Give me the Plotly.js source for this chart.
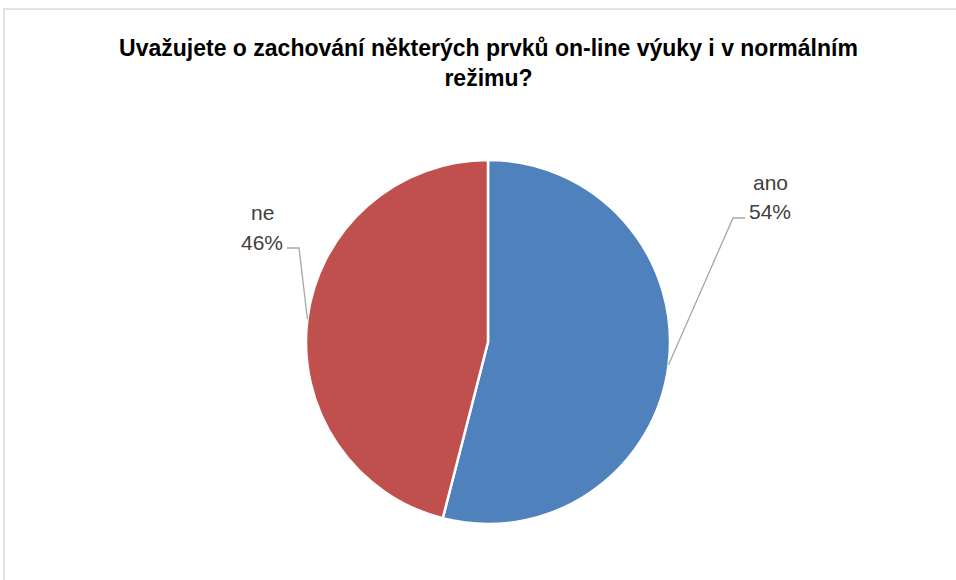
<!DOCTYPE html>
<html>
<head>
<meta charset="utf-8">
<script src="https://cdn.plot.ly/plotly-3.0.1.min.js"></script>
<style>html,body{margin:0;padding:0;background:#fff;}#chart{width:956px;height:580px;}</style>
</head>
<body>
<div id="chart"></div>
<script>
const categories = ["ano", "ne"];
const values = [54, 46];
const colors = ["#4F81BD", "#C0504D"];
const titleLines = ["Uvažujete o zachování některých prvků on-line výuky i v normálním", "režimu?"];

const W = 956, H = 580;
const cx = 488, cy = 342, R = 182;

const total = values.reduce((a, b) => a + b, 0);
const pct = values.map(v => Math.round(v / total * 100) + "%");

// mid-angles (clockwise from 12 o'clock) to anchor leader lines on the pie edge
let acc = 0;
const mids = values.map(v => { const m = (acc + v / 2) / total * 2 * Math.PI; acc += v; return m; });
const edge = mids.map(a => [cx + R * Math.sin(a), cy - R * Math.cos(a)]);

const px = x => x / W;
const py = y => 1 - y / H;

// label placement (pixels)
const labelPos = [
  {x: 770, yName: 182, yPct: 211, elbow: [733, 218], end: [745, 218]},
  {x: 262, yName: 212, yPct: 242, elbow: [299, 248], end: [287, 248]}
];

const labelFont = {family: "Liberation Sans, Arial, sans-serif", size: 21, color: "#404040"};

const shapes = [
  {type: "rect", xref: "paper", yref: "paper", x0: px(4), x1: 1.2, y0: -0.2, y1: py(9),
   line: {color: "#d9d9d9", width: 1.5}, fillcolor: "rgba(0,0,0,0)", layer: "below"}
];
const annotations = [];
categories.forEach((c, i) => {
  const L = labelPos[i];
  shapes.push({type: "path", xref: "paper", yref: "paper",
    path: `M ${px(edge[i][0])} ${py(edge[i][1])} L ${px(L.elbow[0])} ${py(L.elbow[1])} L ${px(L.end[0])} ${py(L.end[1])}`,
    line: {color: "#a6a6a6", width: 1.3}});
  annotations.push({xref: "paper", yref: "paper", x: px(L.x), y: py(L.yName), xanchor: "center", yanchor: "middle",
    text: c, showarrow: false, font: labelFont});
  annotations.push({xref: "paper", yref: "paper", x: px(L.x), y: py(L.yPct), xanchor: "center", yanchor: "middle",
    text: pct[i], showarrow: false, font: labelFont});
});

const data = [{
  type: "pie",
  labels: categories,
  values: values,
  sort: false,
  direction: "clockwise",
  rotation: 0,
  textinfo: "none",
  hoverinfo: "label+percent",
  marker: {colors: colors, line: {color: "#ffffff", width: 2.5}},
  domain: {x: [px(cx - R), px(cx + R)], y: [py(cy + R), py(cy - R)]},
  showlegend: false
}];

const layout = {
  width: W, height: H,
  margin: {l: 0, r: 0, t: 0, b: 0},
  paper_bgcolor: "#ffffff",
  title: {text: "<b>" + titleLines.join("<br>") + "</b>", x: px(488.5), xanchor: "center", y: py(56), yanchor: "top",
    font: {family: "Liberation Sans, Arial, sans-serif", size: 23, color: "#000000"}},
  shapes: shapes,
  annotations: annotations,
  showlegend: false
};

Plotly.newPlot("chart", data, layout, {displayModeBar: false, staticPlot: true});
</script>
</body>
</html>
